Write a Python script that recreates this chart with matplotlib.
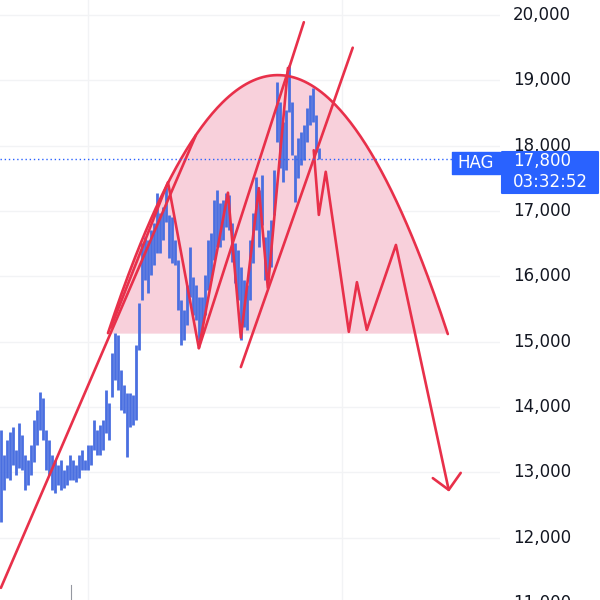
import numpy as np
import matplotlib
matplotlib.use("Agg")
import matplotlib.pyplot as plt
import matplotlib.transforms as mtransforms
from matplotlib.patches import Rectangle

# bar highs / lows (price), one bar per step
highs = [13650, 13260, 13490, 13620, 13690, 13340, 13750, 13570, 13260, 13190,
         13420, 13800, 13950, 14230, 14140, 13650, 13490, 13260, 13190, 13110,
         13190, 13030, 13110, 13260, 13190, 13110, 13260, 13340, 13190, 13420,
         13420, 13800, 13650, 13720, 13800, 14260, 14060, 14830, 15130, 15100,
         14570, 14340, 14210, 14210, 14180, 14950, 15590, 16510, 16600, 16560,
         16710, 16820, 17280, 16970, 17060, 17370, 16940, 16910, 16560, 16250,
         15640, 15480, 15870, 16450, 15990, 15870, 15680, 15680, 16020, 16560,
         16660, 17170, 17320, 17120, 17170, 17280, 17250, 16820, 16510, 16400,
         16140, 15940, 15870, 16560, 16970, 17520, 17320, 17550, 16600, 16710,
         16860, 17630, 18980, 18670, 18360, 18550, 19240, 18670, 17860, 18120,
         18210, 18320, 18580, 18780, 18880, 18470, 17960]
lows = [12240, 12730, 12910, 12880, 13110, 12960, 13070, 13030, 12730, 12810,
        12960, 13160, 13420, 13650, 13490, 13030, 12960, 12730, 12680, 12810,
        12730, 12760, 12810, 12880, 12880, 12850, 12910, 13030, 13030, 13030,
        13110, 13340, 13260, 13260, 13340, 13600, 13490, 14150, 14410, 14260,
        13950, 13910, 13230, 13690, 13720, 13800, 14870, 15640, 15940, 15740,
        16020, 16170, 16360, 16360, 16560, 16830, 16280, 16200, 16170, 15480,
        14950, 15030, 15250, 15680, 15410, 15330, 15030, 15180, 15410, 15790,
        15940, 16250, 16450, 16450, 16560, 16760, 16710, 16220, 15900, 15640,
        15030, 15220, 15180, 15640, 16200, 16710, 16450, 16790, 15940, 16020,
        16140, 16940, 18060, 17660, 17440, 17630, 18520, 17860, 17140, 17510,
        17700, 17780, 18060, 18320, 18360, 17900, 17800]
last_price = 17800
last_time = "03:32:52"
symbol = "HAG"

y_ticks = list(range(11000, 21000, 1000))

# drawing anchors (bar index, price)
trend_x = [0, 65]
trend_y = [11230, 18160]
arc_left = (35.7, 15130)
arc_top = (92.3, 19080)
arc_right = (149.0, 15130)
w_x = [36.7, 55.7, 66.0, 75.7, 80.0, 86.0, 89.0, 95.7]
w_y = [15220, 17440, 14900, 17280, 15060, 17350, 15820, 19190]
chan_up_x = [66.0, 101.0]
chan_up_y = [14900, 19890]
chan_lo_x = [80.0, 117.3]
chan_lo_y = [14610, 19500]
proj_x = [104.3, 106.0, 108.3, 116.0, 118.7, 122.0, 131.7, 149.3]
proj_y = [17930, 16940, 17600, 15150, 15910, 15180, 16480, 12730]

red = "#e8304a"
blue = "#4a6fe0"
tv_blue = "#2962ff"

fig = plt.figure(figsize=(6, 6), dpi=100)
ax = fig.add_axes([0, 0, 500 / 600, 1])
ax.set_xlim(-0.3, 166.4)
ax.set_ylim(11044, 20230)

for s in ax.spines.values():
    s.set_visible(False)
ax.set_xticks([])
ax.set_yticks([])
tr = mtransforms.blended_transform_factory(ax.transAxes, ax.transData)
for v in y_ticks:
    ax.axhline(v, color="#f2f3f5", lw=1, zorder=0)
    ax.text(1.026, v, f"{v:,}", transform=tr, fontsize=12, color="#131722",
            ha="left", va="center", clip_on=False, zorder=5)
ax.axvline(29, color="#f2f3f5", lw=1, zorder=0)
ax.axvline(113.7, color="#f2f3f5", lw=1, zorder=0)
ax.axvline(23.3, ymax=0.025, color="#9598a1", lw=0.8, zorder=0)

# arc (parabola through the three anchors) with pink fill
a_x = np.linspace(arc_left[0], arc_right[0], 200)
k = (arc_left[1] - arc_top[1]) / (arc_left[0] - arc_top[0]) ** 2
a_y = arc_top[1] + k * (a_x - arc_top[0]) ** 2
ax.fill_between(a_x, a_y, arc_left[1], color="#f8d0db", lw=0, zorder=1)

# price bars
bx = np.arange(len(highs))
ax.vlines(bx, lows, highs, color=blue, lw=2.0, zorder=2)

ax.plot(a_x, a_y, color=red, lw=1.9, zorder=3, solid_capstyle="round")
ax.plot(trend_x, trend_y, color=red, lw=1.9, zorder=3, solid_capstyle="round")
ax.plot(w_x, w_y, color=red, lw=1.9, zorder=3, solid_capstyle="round", solid_joinstyle="round")
ax.plot(chan_up_x, chan_up_y, color=red, lw=1.9, zorder=3, solid_capstyle="round")
ax.plot(chan_lo_x, chan_lo_y, color=red, lw=1.9, zorder=3, solid_capstyle="round")
ax.plot(proj_x, proj_y, color=red, lw=1.9, zorder=3, solid_capstyle="round", solid_joinstyle="round")
# open arrow head at the end of projection
ax.plot([144.0, proj_x[-1], 153.3], [12910, proj_y[-1], 12990], color=red, lw=1.9,
        zorder=3, solid_capstyle="round", solid_joinstyle="round")

# last price line and labels
ax.axhline(last_price, xmax=452 / 500, color=tv_blue, lw=1, ls=(0, (1, 2)), zorder=4)
ax.add_patch(Rectangle((0.904, last_price - 230), 0.096, 330, transform=tr,
                       facecolor=tv_blue, edgecolor=tv_blue, lw=1, joinstyle="round",
                       clip_on=False, zorder=10))
ax.add_patch(Rectangle((1.004, last_price - 530), 0.192, 630, transform=tr,
                       facecolor=tv_blue, edgecolor=tv_blue, lw=1.5, joinstyle="round",
                       clip_on=False, zorder=10))
ax.text(0.952, last_price - 60, symbol, transform=tr, color="white", fontsize=12,
        ha="center", va="center", clip_on=False, zorder=11)
ax.text(1.026, last_price - 40, f"{last_price:,}", transform=tr, color="white",
        fontsize=12, ha="left", va="center", clip_on=False, zorder=11)
ax.text(1.026, last_price - 360, last_time, transform=tr, color="white",
        fontsize=12, ha="left", va="center", clip_on=False, zorder=11)

fig.savefig("out.png", dpi=100)
